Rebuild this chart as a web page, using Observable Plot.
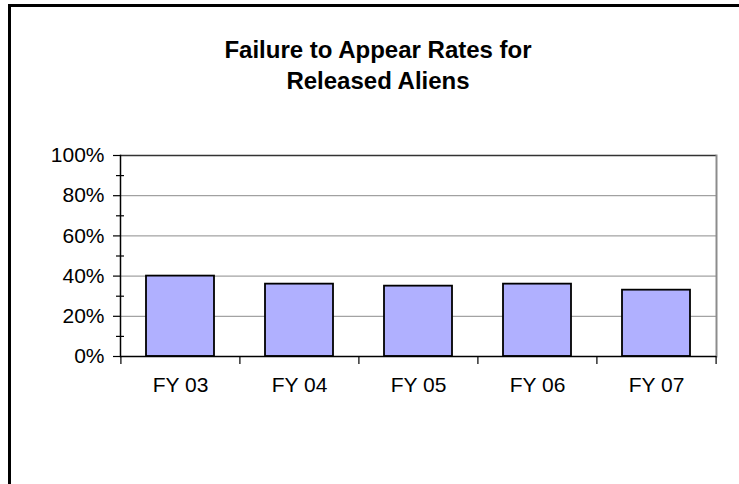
<!DOCTYPE html>
<html>
<head>
<meta charset="utf-8">
<script src="https://cdn.jsdelivr.net/npm/d3@7"></script>
<script src="https://cdn.jsdelivr.net/npm/@observablehq/plot@0.6"></script>
<style>
  html, body { margin: 0; padding: 0; background: #fff; }
  body { width: 739px; height: 484px; position: relative; overflow: hidden;
         font-family: "Liberation Sans", Arial, sans-serif; }
  #frame { position: absolute; left: 8px; top: 4px; width: 760px; height: 520px;
           border-left: 3px solid #000; border-top: 3px solid #000; box-sizing: border-box; }
  #title { position: absolute; left: 178px; width: 400px; top: 34px; text-align: center;
           font-weight: bold; font-size: 24px; line-height: 31px; color: #000; }
  #chart { position: absolute; left: 0; top: 0; }
</style>
</head>
<body>
<div id="frame"></div>
<div id="title">Failure to Appear Rates for<br>Released Aliens</div>
<div id="chart"></div>
<script>
// Fiscal years and failure-to-appear rates (percent)
const years = ["FY 03", "FY 04", "FY 05", "FY 06", "FY 07"];
const rates = [40, 36, 35, 36, 33];
const yTicks = [0, 20, 40, 60, 80, 100];
const yMinorTicks = [10, 30, 50, 70, 90];

const data = years.map((year, i) => ({year, rate: rates[i]}));

const width = 739, height = 484;
const marginLeft = 120, marginRight = 23, marginTop = 155, marginBottom = 128;
// width of one category slot, used to place the separator ticks between categories
const step = (width - marginLeft - marginRight) / years.length;
const gap = 0.43;
const noText = () => "";

const chart = Plot.plot({
  width, height, marginLeft, marginRight, marginTop, marginBottom,
  style: {fontFamily: "'Liberation Sans', Arial, sans-serif", fontSize: "21px", color: "#000", background: "transparent"},
  x: {domain: years, paddingInner: gap, paddingOuter: gap / 2, label: null},
  y: {domain: [0, 100], label: null},
  marks: [
    // horizontal gridlines
    Plot.ruleY(yTicks.filter(d => d > 0 && d < 100), {stroke: "#8c8c8c", strokeWidth: 1}),
    Plot.ruleY([100], {stroke: "#333", strokeWidth: 1.5}),
    Plot.frame({anchor: "right", stroke: "#8c8c8c", strokeWidth: 2}),
    // bars
    Plot.barY(data, {x: "year", y: "rate", fill: "#b0b0ff", stroke: "#000", strokeWidth: 1.8}),
    // axis lines
    Plot.frame({anchor: "left", stroke: "#000", strokeWidth: 1.5}),
    Plot.ruleY([0], {stroke: "#000", strokeWidth: 1.5}),
    Plot.axisY({ticks: yTicks, tickFormat: d => d + "%", tickSize: 7, tickPadding: 9,
                stroke: "#000", strokeWidth: 1.2, fontSize: 21}),
    Plot.axisY({ticks: yMinorTicks, tickFormat: noText, tickSize: 8, dx: 4, stroke: "#000", strokeWidth: 1.2}),
    // category separators below the axis
    Plot.axisX({ticks: years, tickFormat: noText, tickSize: 8, dx: -step / 2, stroke: "#000", strokeWidth: 1.2}),
    Plot.axisX({ticks: years.slice(-1), tickFormat: noText, tickSize: 8, dx: step / 2, stroke: "#000", strokeWidth: 1.2}),
    Plot.axisX({tickSize: 0, tickPadding: 21, fontSize: 21})
  ]
});
document.getElementById("chart").appendChild(chart);
</script>
</body>
</html>
